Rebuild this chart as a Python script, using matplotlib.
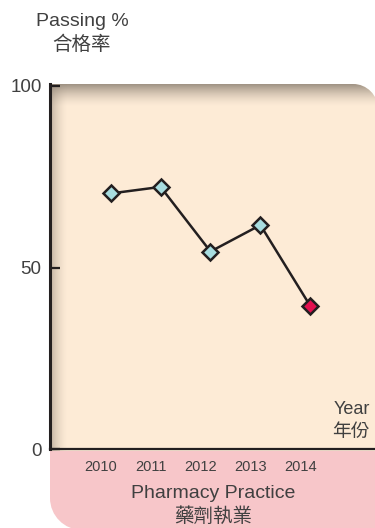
import numpy as np
import matplotlib
matplotlib.use("Agg")
import matplotlib.pyplot as plt
from matplotlib.path import Path
from matplotlib.patches import PathPatch
from matplotlib.transforms import ScaledTranslation

plt.rcParams['font.family'] = ['Liberation Sans', 'Noto Sans CJK TC', 'DejaVu Sans']
plt.rcParams['ytick.direction'] = 'in'

# ---- data ----
years = ['2010', '2011', '2012', '2013', '2014']
passing = [70.4, 72.2, 54.4, 61.7, 39.4]
yticks = [0, 50, 100]
ylabels = ['0', '50', '100']

W, H = 375, 528
fig = plt.figure(figsize=(W / 100, H / 100), dpi=100)

TXT = '#404040'
INK = '#231F20'
BEIGE = '#FDEBD6'
PINK = '#F7C6C9'


def rrect(x0, y0, x1, y1, r):
    """Rounded rectangle in pixel coords (y down) with per-corner radii r=(tl,tr,br,bl)."""
    tl, tr, br, bl = r
    k = 0.5523
    verts, codes = [], []
    verts += [(x0 + tl, y0)]; codes += [Path.MOVETO]
    verts += [(x1 - tr, y0)]; codes += [Path.LINETO]
    if tr:
        verts += [(x1 - tr + tr * k, y0), (x1, y0 + tr - tr * k), (x1, y0 + tr)]; codes += [Path.CURVE4] * 3
    verts += [(x1, y1 - br)]; codes += [Path.LINETO]
    if br:
        verts += [(x1, y1 - br + br * k), (x1 - br + br * k, y1), (x1 - br, y1)]; codes += [Path.CURVE4] * 3
    verts += [(x0 + bl, y1)]; codes += [Path.LINETO]
    if bl:
        verts += [(x0 + bl - bl * k, y1), (x0, y1 - bl + bl * k), (x0, y1 - bl)]; codes += [Path.CURVE4] * 3
    verts += [(x0, y0 + tl)]; codes += [Path.LINETO]
    if tl:
        verts += [(x0, y0 + tl - tl * k), (x0 + tl - tl * k, y0), (x0 + tl, y0)]; codes += [Path.CURVE4] * 3
    verts += [(x0 + tl, y0)]; codes += [Path.CLOSEPOLY]
    return Path(verts, codes)


# ---- decoration layer in pixel coords ----
bg = fig.add_axes([0, 0, 1, 1])
bg.set_xlim(0, W)
bg.set_ylim(H, 0)
bg.axis('off')

beige_path = rrect(50, 84, 378, 460, (0, 25, 0, 0))
beige = PathPatch(beige_path, facecolor=BEIGE, edgecolor='none', zorder=1)
bg.add_patch(beige)

# top shadow gradient
shadow = np.array([0.56, 0.51, 0.46])
n = 64
t = np.linspace(0, 1, n)
a = (1 - t) ** 1.6
img = np.zeros((n, 2, 4))
img[..., :3] = shadow
img[..., 3] = (a * 0.85)[:, None]
im1 = bg.imshow(img, extent=(50, 378, 107, 84), aspect='auto', zorder=2, interpolation='bilinear')
im1.set_clip_path(beige)
# left shadow gradient
img2 = np.zeros((2, n, 4))
img2[..., :3] = shadow
img2[..., 3] = (a * 0.55)[None, :]
im2 = bg.imshow(img2, extent=(50, 68, 460, 84), aspect='auto', zorder=2, interpolation='bilinear')
im2.set_clip_path(beige)

pink = PathPatch(rrect(50, 451, 380, 530, (0, 0, 0, 32)), facecolor=PINK, edgecolor='none', zorder=3)
bg.add_patch(pink)

# ---- data axes ----
y0px, y100px = 449, 86
x_left, x_right = 50, 375
slope, x0px = 49.9, 110.7
ax = fig.add_axes([x_left / W, (H - y0px) / H, (x_right - x_left) / W, (y0px - y100px) / H])
ax.patch.set_alpha(0)
ax.set_ylim(0, 100)
ax.set_xlim((x_left - x0px) / slope, (x_right - x0px) / slope)

xs = np.arange(len(years))
ax.plot(xs, passing, color=INK, lw=1.8, zorder=5)
ax.plot(xs[:-1], passing[:-1], 'D', ms=8.5, mfc='#A8DDE0', mec=INK, mew=1.8, zorder=6)
ax.plot(xs[-1:], passing[-1:], 'D', ms=8.5, mfc='#E3104F', mec=INK, mew=1.8, zorder=6)

for s in ['top', 'right']:
    ax.spines[s].set_visible(False)
ax.spines['left'].set_linewidth(2.2)
ax.spines['left'].set_color(INK)
ax.spines['left'].set_bounds(0, 100.5)
ax.spines['bottom'].set_linewidth(1.6)
ax.spines['bottom'].set_color(INK)

ax.set_yticks(yticks, ylabels)
ax.tick_params(axis='y', direction='in', length=7, width=1.6, color=INK,
               labelsize=13.5, labelcolor=TXT, pad=6)
ax.set_xticks(xs, years)
ax.tick_params(axis='x', length=0, labelsize=10.5, labelcolor=TXT, pad=8)
off = ScaledTranslation(-0.10, 0, fig.dpi_scale_trans)
for lab in ax.get_xticklabels():
    lab.set_transform(lab.get_transform() + off)

# ---- texts (pixel coords) ----
def txt(x, y, s, size, ha='center'):
    bg.text(x, y, s, fontsize=size, color=TXT, ha=ha, va='center', zorder=10)

txt(82, 22, 'Passing %', 14)
txt(82, 45, '合格率', 14)
txt(370, 410, 'Year', 13, ha='right')
txt(370, 433, '年份', 13.5, ha='right')
txt(213, 494, 'Pharmacy Practice', 14)
txt(213, 517, '藥劑執業', 14)

fig.savefig('out.png', dpi=100)
